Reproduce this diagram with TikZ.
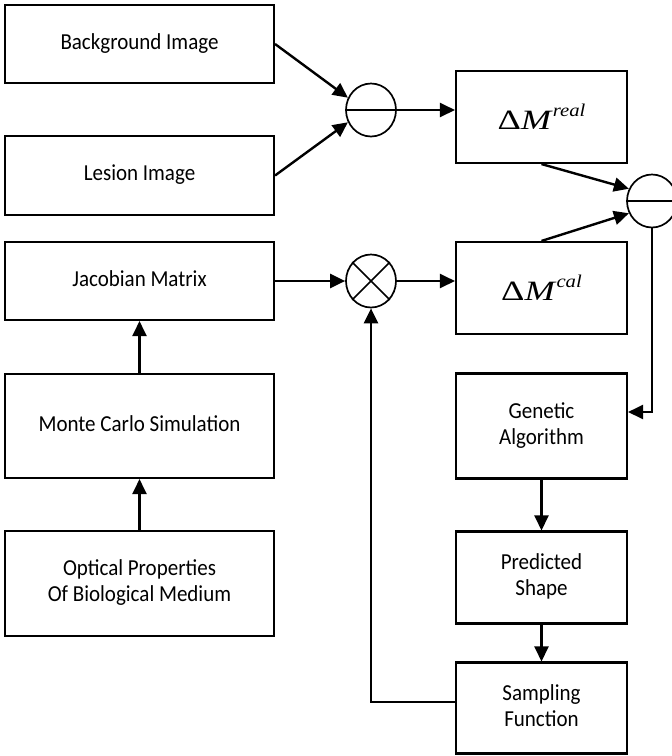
\documentclass[tikz,border=0pt]{standalone}
\usepackage{fontspec}
\setmainfont{Carlito}
\newfontfamily\tnr{Liberation Serif}
\usetikzlibrary{arrows.meta,shapes.geometric}

% Box label: slightly tall sans text, one or more centred lines
\newcommand{\tx}[1]{\scalebox{1}[1.09]{\fontsize{21}{23.6}\selectfont
  \begin{tabular}{@{}c@{}}#1\end{tabular}}}
% Delta M with a raised italic label, in a wide serif style
\newcommand{\dmlabel}[1]{{\tnr\fontsize{28}{28}\selectfont
  \scalebox{1.3}[1]{Δ\textit{M}}\raisebox{13pt}{\fontsize{18}{18}\selectfont\scalebox{1.15}[1]{\textit{#1}}}}}

\begin{document}
\begin{tikzpicture}[x=1pt,y=-1pt,
  blk/.style={draw, line width=2.1pt, rectangle, inner sep=0pt, align=center},
  lblk/.style={blk, minimum width=269pt},
  rblk/.style={blk, minimum width=171pt},
  op/.style={draw, line width=1.7pt, ellipse, minimum width=50pt, minimum height=53pt, inner sep=0pt},
  arr/.style={line width=2.4pt, -{Triangle[length=15pt,width=14pt]}},
  wire/.style={line width=1.7pt}]
\useasboundingbox (0,0) rectangle (672,756);

% left column
\node[lblk, minimum height=78pt]  (bg)  at (139.5,44)    {\tx{Background Image}};
\node[lblk, minimum height=79pt]  (les) at (139.5,175.5) {\tx{Lesion Image}};
\node[lblk, minimum height=78pt]  (jac) at (139.5,281)   {\tx{Jacobian Matrix}};
\node[lblk, minimum height=104pt] (mc)  at (139.5,426)   {\tx{Monte Carlo Simulation}};
\node[lblk, minimum height=105pt] (opt) at (139.5,583.5) {\tx{Optical Properties\\Of Biological Medium}};

% right column
\node[rblk, minimum height=92pt]  (real) at (541.5,117)   {\dmlabel{real}};
\node[rblk, minimum height=92pt]  (cal)  at (541.5,288)   {\dmlabel{cal}};
\node[rblk, minimum height=105pt] (ga)   at (541.5,426)   {\tx{Genetic\\Algorithm}};
\node[rblk, minimum height=92pt]  (ps)   at (541.5,577.5) {\tx{Predicted\\Shape}};
\node[rblk, minimum height=91pt]  (sf)   at (541.5,708)   {\tx{Sampling\\Function}};

% operators
\node[op] (m1)    at (371,110) {};
\node[op] (times) at (371,281) {};
\node[op] (m2)    at (652,201) {};
\draw[wire] (m1.west) -- (m1.east);
\draw[wire] (m2.west) -- (m2.east);
\draw[wire] (times.45) -- (times.225);
\draw[wire] (times.135) -- (times.315);

% connectors
\draw[arr] (bg.east) -- (m1.152);
\draw[arr] (les.east) -- (m1.208);
\draw[arr] (m1.east) -- (m1.east -| real.west);
\draw[arr] (jac.east) -- (times.west);
\draw[arr] (times.east) -- (times.east -| cal.west);
\draw[arr] (mc.north) -- (jac.south);
\draw[arr] (opt.north) -- (mc.south);
\draw[arr] (real.south) -- (m2.152);
\draw[arr] (cal.north) -- (m2.208);
\draw[arr] (m2.south) |- ([yshift=14pt]ga.east);
\draw[arr] (ga.south) -- (ps.north);
\draw[arr] (ps.south) -- (sf.north);
\draw[arr] ([yshift=6pt]sf.west) -| (times.south);
\end{tikzpicture}
\end{document}
